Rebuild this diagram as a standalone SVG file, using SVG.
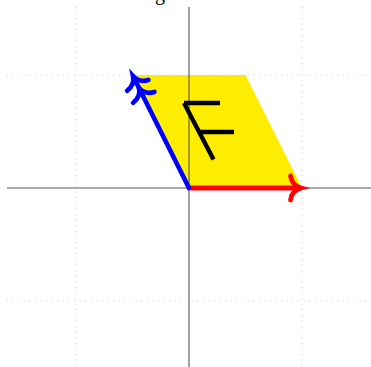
<svg xmlns="http://www.w3.org/2000/svg" width="371" height="367" viewBox="0 0 371 367">
<style>
.grid{stroke:#c8c8c8;stroke-width:1;stroke-dasharray:1 4.6;fill:none}
.axis{stroke:#555;stroke-width:1.1;fill:none}
.vec{fill:none;stroke-linecap:round;stroke-linejoin:round}
</style>
<defs>
<path id="head" d="M-10.5,-12 C-9.5,-5.5 -5.5,-1.5 0,0 C-5.5,1.5 -9.5,5.5 -10.5,12" fill="none" stroke-linecap="round"/>
</defs>
<rect width="371" height="367" fill="#fff"/>
<text x="160" y="0" font-family="Liberation Serif, serif" font-size="20" text-anchor="middle" fill="#000">g</text>
<g id="grid">
<line class="grid" x1="76" y1="7" x2="76" y2="367"/>
<line class="grid" x1="302" y1="7" x2="302" y2="367"/>
<line class="grid" x1="7" y1="75" x2="371" y2="75"/>
<line class="grid" x1="7" y1="301" x2="371" y2="301"/>
</g>
<g id="parallelogram">
<polygon points="189,188 302,188 245.5,75 132.5,75" fill="#ffed00"/>
</g>
<g id="axes">
<line class="axis" x1="7" y1="188" x2="371" y2="188"/>
<line class="axis" x1="189" y1="7" x2="189" y2="367"/>
</g>
<g id="F">
<path d="M184,103 L220,103 M184,103 L213.5,159.5 M199,132 L234,132" fill="none" stroke="#000" stroke-width="4.4"/>
</g>
<g id="connectors">
<g id="red-vector" stroke="#ff0000" stroke-width="4.8">
<line class="vec" x1="189" y1="188" x2="300" y2="188"/>
<use href="#head" transform="translate(301,188)"/>
</g>
<g id="blue-vector" stroke="#0000ff" stroke-width="4.6">
<line class="vec" x1="189" y1="188" x2="133.5" y2="77"/>
<use href="#head" transform="translate(133,76) rotate(-116.77)"/>
<use href="#head" transform="translate(139,88) rotate(-116.77)"/>
</g>
</g>
</svg>
